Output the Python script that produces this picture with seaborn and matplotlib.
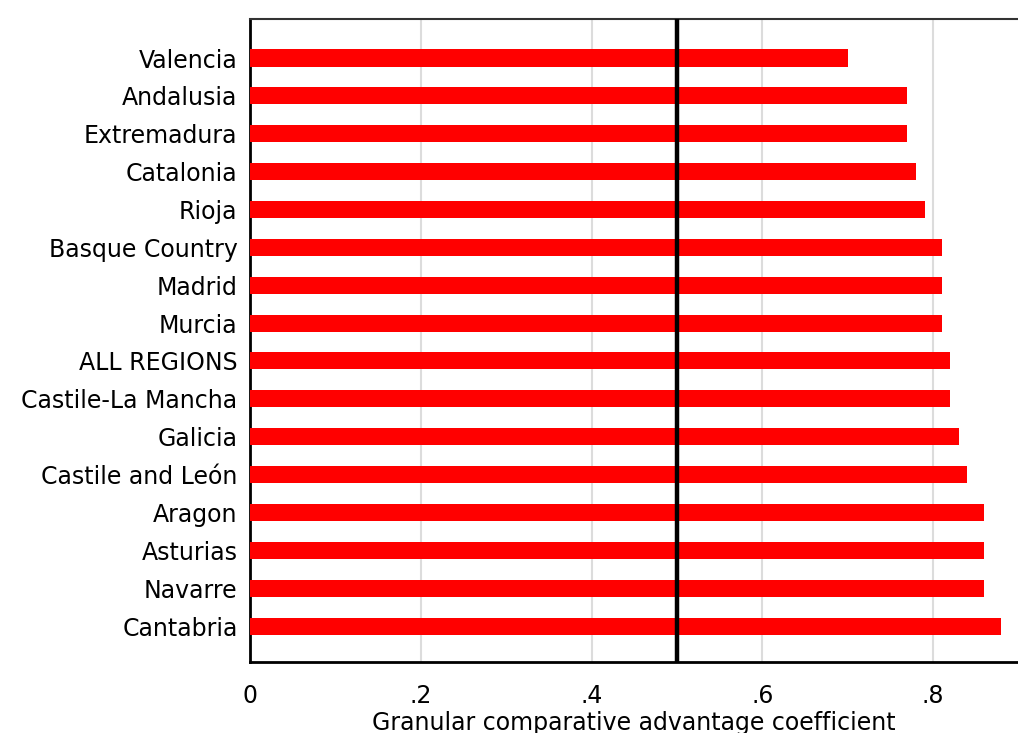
import matplotlib
matplotlib.use("Agg")
import matplotlib.pyplot as plt
import seaborn as sns
import pandas as pd

regions = ["Valencia", "Andalusia", "Extremadura", "Catalonia", "Rioja",
           "Basque Country", "Madrid", "Murcia", "ALL REGIONS",
           "Castile-La Mancha", "Galicia", "Castile and León", "Aragon",
           "Asturias", "Navarre", "Cantabria"]
coefficients = [0.70, 0.77, 0.77, 0.78, 0.79, 0.81, 0.81, 0.81, 0.82,
                0.82, 0.83, 0.84, 0.86, 0.86, 0.86, 0.88]
x_ticks = [0, 0.2, 0.4, 0.6, 0.8]
x_tick_labels = ["0", ".2", ".4", ".6", ".8"]
reference_value = 0.5

df = pd.DataFrame({"region": regions, "coef": coefficients})

sns.set_style("white")
plt.rcParams["font.family"] = ["DejaVu Sans"]
plt.rcParams["text.color"] = "black"
plt.rcParams["xtick.color"] = "black"
plt.rcParams["ytick.color"] = "black"
plt.rcParams["axes.labelcolor"] = "black"

W, H = 1018, 733
fig = plt.figure(figsize=(W / 100, H / 100), dpi=100)
left, right, top, bottom = 250, 1018.5, 19, 662
ax = fig.add_axes([left / W, 1 - bottom / H, (right - left) / W, (bottom - top) / H])

sns.barplot(data=df, y="region", x="coef", orient="h", color="#ff0000",
            saturation=1, width=0.45, ax=ax, zorder=3, edgecolor="none")

ax.set_xlim(0, 0.9)
ax.set_ylim(15.95, -1.03)

for t in x_ticks[1:]:
    ax.axvline(t, color="#dcdcdc", lw=1.5, zorder=1)
ax.axvline(reference_value, color="black", lw=3.2, zorder=4)

fs = 17
ax.set_xticks(x_ticks)
ax.set_xticklabels(x_tick_labels, fontsize=fs)
ax.tick_params(axis="x", direction="out", length=7, width=1.5, color="black", pad=9)
ax.tick_params(axis="y", length=0, pad=9, labelsize=fs)
ax.set_ylabel("")
ax.set_xlabel("Granular comparative advantage coefficient", fontsize=fs, labelpad=2)

for side in ["left", "bottom"]:
    ax.spines[side].set_color("black")
    ax.spines[side].set_linewidth(2)
ax.spines["top"].set_color("#333333")
ax.spines["top"].set_linewidth(1.5)
ax.spines["right"].set_visible(False)

fig.savefig("out.png", dpi=100, facecolor="white")
